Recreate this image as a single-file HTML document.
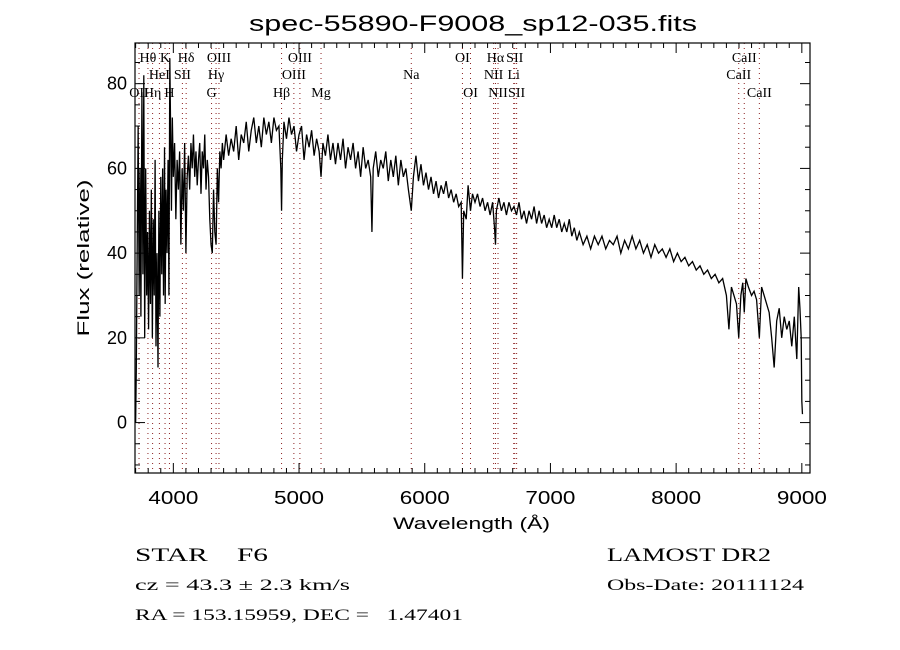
<!DOCTYPE html>
<html><head><meta charset="utf-8"><style>
html,body{margin:0;padding:0;background:#fff;}
svg{display:block;}
.t{font-family:"Liberation Sans",sans-serif;fill:#000;}
.s{font-family:"Liberation Serif",serif;fill:#000;}
</style></head><body>
<svg id="chart" width="900" height="650" viewBox="0 0 900 650" xmlns="http://www.w3.org/2000/svg">
<rect width="900" height="650" fill="#fff"/>
<text class="t" x="249" y="31" font-size="22" textLength="448" lengthAdjust="spacingAndGlyphs">spec-55890-F9008_sp12-035.fits</text>
<g id="lines"></g>
<g id="spec"></g>
<g id="labels"></g>
<rect x="135" y="43" width="675" height="430" fill="none" stroke="#000" stroke-width="1.2"/>
<g id="ticks"></g>
<text class="t" x="393" y="529" font-size="17" textLength="157" lengthAdjust="spacingAndGlyphs">Wavelength (Å)</text>
<text class="t" x="0" y="0" font-size="17" text-anchor="middle" textLength="157" lengthAdjust="spacingAndGlyphs" transform="translate(89,258) rotate(-90)">Flux (relative)</text>
<text class="s" x="135" y="561" font-size="19" textLength="133" lengthAdjust="spacingAndGlyphs" xml:space="preserve">STAR    F6</text>
<text class="s" x="135" y="590" font-size="16" textLength="215" lengthAdjust="spacingAndGlyphs">cz = 43.3 ± 2.3 km/s</text>
<text class="s" x="135" y="620" font-size="16" textLength="328" lengthAdjust="spacingAndGlyphs" xml:space="preserve">RA = 153.15959, DEC =   1.47401</text>
<text class="s" x="607" y="561" font-size="19" textLength="164" lengthAdjust="spacingAndGlyphs">LAMOST DR2</text>
<text class="s" x="607" y="590" font-size="16" textLength="197" lengthAdjust="spacingAndGlyphs">Obs-Date: 20111124</text>
</svg>
<script>
const wave = [3700,3705,3712,3720,3728,3735,3742,3750,3758,3765,3772,3780,3788,3795,3803,3810,3818,3825,3833,3840,3848,3855,3862,3870,3878,3885,3893,3900,3908,3915,3922,3930,3935,3942,3950,3958,3965,3972,3978,3985,3992,4000,4010,4020,4030,4040,4050,4060,4070,4080,4090,4100,4110,4120,4130,4140,4150,4160,4170,4180,4190,4200,4210,4220,4230,4240,4250,4260,4270,4280,4290,4300,4310,4320,4330,4340,4350,4360,4370,4380,4390,4400,4420,4440,4460,4480,4500,4520,4540,4560,4580,4600,4620,4640,4660,4680,4700,4720,4740,4760,4780,4800,4820,4840,4855,4861,4867,4880,4900,4920,4940,4960,4980,5000,5020,5040,5060,5080,5100,5120,5140,5160,5175,5190,5210,5230,5250,5270,5290,5310,5330,5350,5370,5390,5410,5430,5450,5470,5490,5510,5530,5550,5570,5580,5590,5610,5630,5650,5670,5690,5710,5730,5750,5770,5790,5810,5830,5850,5870,5893,5910,5930,5950,5970,5990,6010,6030,6050,6070,6090,6110,6130,6150,6170,6190,6210,6230,6250,6270,6290,6300,6310,6330,6345,6364,6380,6400,6420,6440,6460,6480,6500,6520,6540,6555,6563,6570,6590,6610,6630,6650,6670,6690,6710,6730,6750,6770,6790,6810,6830,6850,6870,6890,6910,6930,6950,6970,6990,7010,7030,7050,7070,7090,7110,7130,7150,7170,7190,7210,7230,7260,7290,7320,7350,7380,7410,7440,7470,7500,7530,7560,7590,7620,7650,7680,7710,7740,7770,7800,7830,7860,7890,7920,7950,7980,8010,8040,8070,8100,8130,8160,8190,8220,8250,8280,8310,8340,8370,8400,8420,8440,8460,8480,8498,8515,8530,8542,8555,8575,8600,8620,8640,8662,8680,8700,8720,8740,8760,8780,8800,8820,8840,8860,8880,8900,8920,8940,8960,8975,8985,8995,9000,9005];
const flux = [0,12,40,70,30,60,25,78,35,82,20,60,30,45,22,50,28,55,20,48,30,62,18,40,13,50,25,58,35,60,30,65,28,55,40,62,30,86,70,50,72,58,66,48,62,55,64,42,60,50,66,40,58,63,55,66,60,68,58,64,56,62,66,54,64,60,68,55,62,58,48,42,40,55,45,42,60,52,64,60,66,62,68,63,67,64,70,62,68,66,71,64,69,72,66,70,65,72,68,71,66,72,69,70,60,50,62,71,67,72,68,70,64,68,70,62,68,65,69,63,67,64,58,66,63,68,62,66,61,66,62,67,60,65,62,66,60,64,58,65,60,62,58,45,60,64,58,62,60,64,57,62,58,63,56,62,58,60,55,50,58,63,57,61,56,59,55,58,54,57,53,56,54,57,53,55,52,54,51,52,34,50,48,56,50,54,52,54,51,53,50,52,49,52,46,42,50,53,50,52,49,52,50,51,49,52,48,50,47,50,48,51,47,50,47,49,46,48,46,49,46,48,45,47,45,48,44,46,43,45,42,44,41,44,42,44,41,43,42,44,40,43,41,44,41,43,40,42,39,42,40,41,39,41,38,40,38,39,37,38,36,37,35,36,34,35,33,34,30,22,32,30,28,20,30,33,26,34,32,30,31,29,20,32,30,28,26,20,13,24,27,20,25,22,24,18,25,15,32,27,20,5,2];
const lineWaves = [3727,3798,3835,3889,3934,3969,4072,4102,4304,4340,4363,4861,4959,5007,5175,5893,6300,6364,6548,6563,6583,6708,6716,6731,8498,8542,8662];
const lineNames = ["OII","Hθ","Hη","HeI","K","H","SII","Hδ","G","Hγ","OIII","Hβ","OIII","OIII","Mg","Na","OI","OI","NII","Hα","NII","Li","SII","SII","CaII","CaII","CaII"];
const lineRows = [3,1,3,2,1,3,2,1,3,2,1,3,2,1,3,2,1,3,2,1,3,2,1,3,2,1,3];
const xTicks = [4000,5000,6000,7000,8000,9000];
const yTicks = [0,20,40,60,80];

const NS="http://www.w3.org/2000/svg";
const X0=135,X1=810,Y0=43,Y1=473,WMIN=3695,WMAX=9065,FMIN=-11.9,FMAX=89.6;
function xs(w){return X0+(w-WMIN)/(WMAX-WMIN)*(X1-X0);}
function ys(f){return Y1-(f-FMIN)/(FMAX-FMIN)*(Y1-Y0);}
function mk(tag,attrs,parent){const e=document.createElementNS(NS,tag);for(const k in attrs)e.setAttribute(k,attrs[k]);parent.appendChild(e);return e;}

const gl=document.getElementById('lines'), glab=document.getElementById('labels');
const rowY={1:62,2:79,3:97};
lineWaves.forEach((w,i)=>{
  const l=mk('line',{x1:xs(w),x2:xs(w),y1:Y0,y2:Y1,stroke:'#8b2020','stroke-width':1,'stroke-dasharray':'1,4'},gl);
  
  
  const t=mk('text',{x:xs(w),y:rowY[lineRows[i]],'font-size':14,'text-anchor':'middle',class:'s'},glab);
  t.textContent=lineNames[i];
  
  
});

const gs=document.getElementById('spec');
let d='';
wave.forEach((w,i)=>{d+=(i?'L':'M')+xs(w).toFixed(2)+' '+ys(flux[i]).toFixed(2);});
const p=mk('path',{d:d,fill:'none',stroke:'#000','stroke-width':1.3,'stroke-linejoin':'miter'},gs);



const gt=document.getElementById('ticks');
for(let w=3700;w<=9000;w+=100){
  const major=(w%1000===0);const len=major?10:5;const x=xs(w);
  mk('line',{x1:x,x2:x,y1:Y1,y2:Y1-len,stroke:'#000'},gt);
  mk('line',{x1:x,x2:x,y1:Y0,y2:Y0+len,stroke:'#000'},gt);
}
xTicks.forEach(w=>{
  const t=mk('text',{x:xs(w),y:504,'font-size':18,'text-anchor':'middle',textLength:50,lengthAdjust:'spacingAndGlyphs',class:'t'},gt);
  t.textContent=w;
  
  
});
for(let f=-10;f<=85;f+=5){
  const major=(f%20===0);const len=major?10:5;const y=ys(f);
  mk('line',{x1:X0,x2:X0+len,y1:y,y2:y,stroke:'#000'},gt);
  mk('line',{x1:X1,x2:X1-len,y1:y,y2:y,stroke:'#000'},gt);
}
yTicks.forEach(f=>{
  const t=mk('text',{x:127,y:ys(f)+6,'font-size':18,'text-anchor':'end',class:'t'},gt);
  t.textContent=f;
  
  
});
</script>
</body></html>
